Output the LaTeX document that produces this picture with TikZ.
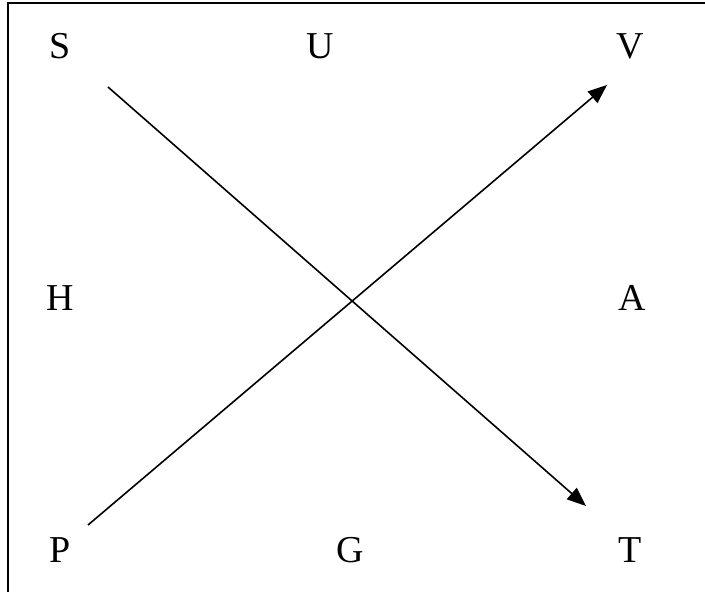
\documentclass[tikz,border=0pt]{standalone}
\usepackage{fontspec}
\setmainfont{Liberation Serif}
\usepackage{tikz}
\usetikzlibrary{arrows.meta}

\begin{document}
\begin{tikzpicture}[
        x=1pt, y=-1pt,
        lbl/.style={inner sep=0pt, font=\fontsize{38}{40}\selectfont},
        arr/.style={-{Triangle[length=19pt, width=15pt]}, line width=1.6pt}
      ]
        \useasboundingbox (0,0) rectangle (705,592);
        \draw[line width=2pt] (8,600) -- (8,3) -- (710,3);
        \node[lbl] (s) at (60,46)  {S};
        \node[lbl] (u) at (320,46) {U};
        \node[lbl] (v) at (630,46) {V};
        \node[lbl] (h) at (60,298) {H};
        \node[lbl] (a) at (632,298) {A};
        \node[lbl] (p) at (60,550) {P};
        \node[lbl] (g) at (350,550) {G};
        \node[lbl] (t) at (630,550) {T};
        \coordinate (s0) at (108,87);
        \coordinate (t0) at (586,506);
        \coordinate (p0) at (88,525);
        \coordinate (v0) at (607,85);
        \draw[arr] (s0) -- (t0);
        \draw[arr] (p0) -- (v0);
      \end{tikzpicture}
\end{document}
